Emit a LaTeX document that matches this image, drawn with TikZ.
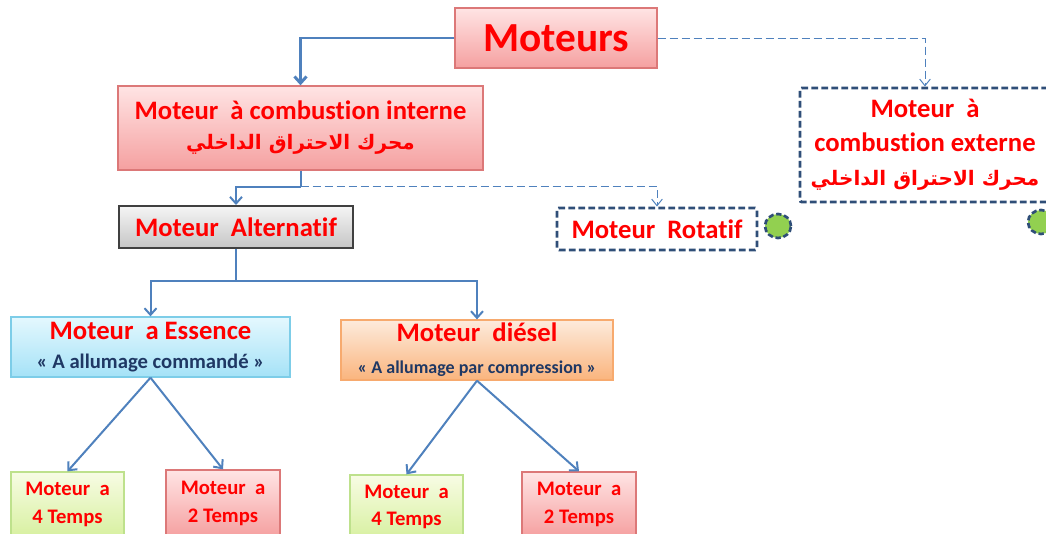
\documentclass[tikz,border=0pt]{standalone}
\usepackage{fontspec}
\setmainfont{Carlito}[Ligatures={NoCommon,NoContextual,NoRare},RawFeature={-calt;-clig}]
\newfontfamily\arabicfont[Script=Arabic]{DejaVu Sans}
\TeXXeTstate=1
\usetikzlibrary{shapes.geometric,arrows.meta}
\definecolor{linkblue}{RGB}{79,129,189}
\definecolor{darkframe}{RGB}{47,78,120}
\definecolor{txtblue}{RGB}{31,56,100}
\definecolor{pinkline}{RGB}{220,120,120}
\definecolor{pinktop}{RGB}{255,228,228}
\definecolor{pinkbot}{RGB}{245,160,160}
\definecolor{greenline}{RGB}{190,225,140}
\definecolor{greentop}{RGB}{248,252,228}
\definecolor{greenbot}{RGB}{215,240,160}
\definecolor{blueline}{RGB}{125,205,232}
\definecolor{bluetop}{RGB}{228,248,254}
\definecolor{bluebot}{RGB}{165,226,247}
\definecolor{orangeline}{RGB}{247,170,110}
\definecolor{orangetop}{RGB}{253,235,220}
\definecolor{orangebot}{RGB}{250,180,125}
\definecolor{dotgreen}{RGB}{146,208,80}

\begin{document}
\begin{tikzpicture}[x=0.75pt,y=-0.75pt,
    box/.style={rectangle,align=center,text=red,font=\bfseries,inner sep=0pt},
    pinkbox/.style={box,draw=pinkline,line width=1pt,top color=pinktop,bottom color=pinkbot},
    greenbox/.style={box,draw=greenline,line width=1pt,top color=greentop,bottom color=greenbot},
    dashbox/.style={box,draw=darkframe,fill=white,line width=2.2pt,dash pattern=on 5pt off 2.5pt,rounded corners=1.5pt},
    dot/.style={ellipse,draw=darkframe,fill=dotgreen,line width=2pt,dash pattern=on 4pt off 2pt,minimum width=19.5pt,minimum height=18pt,inner sep=0pt},
    link/.style={draw=linkblue,line width=1.5pt,-{Straight Barb[length=5pt,width=9pt]}},
    dashlink/.style={draw=linkblue,line width=0.75pt,dash pattern=on 6pt off 3pt,-{Straight Barb[length=5pt,width=8pt]}}
  ]
  \clip (0,0) rectangle (1046,533);
  % Draw top node
  \node[pinkbox,minimum width=151.5pt,minimum height=45pt,font=\bfseries\fontsize{31}{36}\selectfont] (mot) at (556,38) {Moteurs};
  % Draw second level
  \node[pinkbox,minimum width=273.75pt,minimum height=63pt,font=\bfseries\fontsize{20}{22.5}\selectfont] (mci) at (300.5,128) {
    Moteur\ \ à combustion interne\\
    {\arabicfont\fontsize{15}{22.5}\selectfont\beginR محرك الاحتراق الداخلي\endR}
  };
  \node[dashbox,minimum width=187.5pt,minimum height=85.5pt,font=\bfseries\fontsize{20}{25.5}\selectfont] (ext) at (925,145) {
    Moteur\ \ à\\
    combustion externe\\
    {\arabicfont\fontsize{15}{25.5}\selectfont\beginR محرك الاحتراق الداخلي\endR}
  };
  % Draw third level
  \node[box,draw=black!75,line width=1.5pt,top color=gray!8,bottom color=gray!45,minimum width=175.5pt,minimum height=31.5pt,font=\bfseries\fontsize{20}{24}\selectfont] (alt) at (236,227) {Moteur\ \ Alternatif};
  \node[dashbox,minimum width=150pt,minimum height=31.5pt,font=\bfseries\fontsize{20}{24}\selectfont] (rot) at (657,229) {Moteur\ \ Rotatif};
  \node[dot] (dot1) at (778,226) {};
  \node[dot] (dot2) at (1041,222) {};
  % Draw fuel types
  \node[box,draw=blueline,line width=1pt,top color=bluetop,bottom color=bluebot,minimum width=209.25pt,minimum height=45pt,font=\bfseries\fontsize{20}{22}\selectfont] (ess) at (150.5,347) {
    Moteur\ \ a Essence\\
    {\color{txtblue}\fontsize{15.5}{20}\selectfont « A allumage commandé »}
  };
  \node[box,draw=orangeline,line width=1pt,top color=orangetop,bottom color=orangebot,minimum width=204pt,minimum height=45pt,font=\bfseries\fontsize{20}{24}\selectfont] (die) at (477,350) {
    Moteur\ \ diésel\\
    {\color{txtblue}\fontsize{13.5}{20}\selectfont « A allumage par compression »}
  };
  % Draw cycles
  \node[greenbox,minimum width=84.75pt,minimum height=48.75pt,font=\bfseries\fontsize{15.5}{20.5}\selectfont] (g1) at (67.5,504.5) {Moteur\ \ a\\4 Temps};
  \node[pinkbox,minimum width=85.5pt,minimum height=50.25pt,font=\bfseries\fontsize{15.5}{20.5}\selectfont] (r1) at (223,503.5) {Moteur\ \ a\\2 Temps};
  \node[greenbox,minimum width=84.75pt,minimum height=48pt,font=\bfseries\fontsize{15.5}{20.5}\selectfont] (g2) at (406.5,507) {Moteur\ \ a\\4 Temps};
  \node[pinkbox,minimum width=85.5pt,minimum height=48.75pt,font=\bfseries\fontsize{15.5}{20.5}\selectfont] (r2) at (579,504.5) {Moteur\ \ a\\2 Temps};
  % Draw connectors
  \draw[link,line width=2.2pt] (mot.west) -| (mci.north);
  \draw[dashlink] (mot.east) -| (ext.north);
  \draw[draw=linkblue,line width=1.5pt] (mci.south) -- ++(0,16) coordinate (j1);
  \draw[link] (j1) -| (alt.north);
  \draw[dashlink] (j1) -| (rot.north);
  \draw[draw=linkblue,line width=1.5pt] (alt.south) -- ++(0,32) coordinate (j2);
  \draw[link] (j2) -| (ess.north);
  \draw[link] (j2) -| (die.north);
  \draw[link] (ess.south) -- (g1.north);
  \draw[link] (ess.south) -- (r1.north);
  \draw[link] (die.south) -- (g2.north);
  \draw[link] (die.south) -- (r2.north);
\end{tikzpicture}
\end{document}
